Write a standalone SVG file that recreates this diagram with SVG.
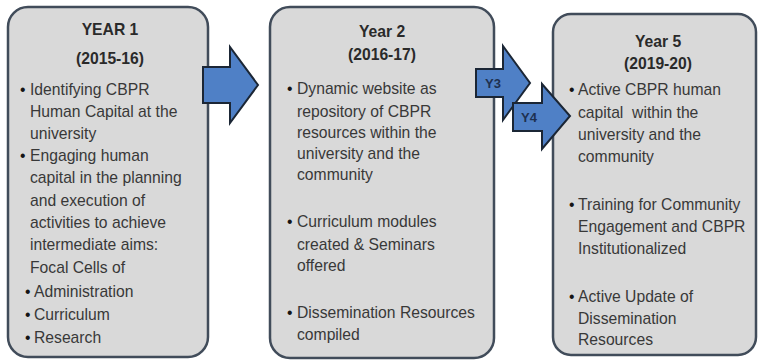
<svg xmlns="http://www.w3.org/2000/svg" width="758" height="362" viewBox="0 0 758 362">
<style>
.box{fill:#d9d9d9;stroke:#414c5a;stroke-width:2.5}
.t{font-family:"Liberation Sans",Arial,sans-serif;font-size:15.7px;fill:#383838}
.b{font-family:"Liberation Sans",Arial,sans-serif;font-size:15.7px;fill:#151515}
.h{font-family:"Liberation Sans",Arial,sans-serif;font-size:15.7px;font-weight:bold;fill:#2a2a2a;text-anchor:middle}
.arr{fill:#4f80c6;stroke:#1b2635;stroke-width:2;stroke-linejoin:miter}
.lbl{font-family:"Liberation Sans",Arial,sans-serif;font-size:13px;font-weight:bold;fill:#1e3050;text-anchor:middle}
</style>
<rect width="758" height="362" fill="#ffffff"/>
<g id="year1">
<rect class="box" x="8" y="7" width="200" height="350" rx="20"/>
<text class="h" x="110" y="35">YEAR 1</text>
<text class="h" x="110" y="64">(2015-16)</text>
<text class="b" x="20" y="95">•</text>
<text class="t" x="30" y="95">Identifying CBPR</text>
<text class="t" x="30" y="117">Human Capital at the</text>
<text class="t" x="30" y="139">university</text>
<text class="b" x="20" y="161">•</text>
<text class="t" x="30" y="161">Engaging human</text>
<text class="t" x="30" y="183">capital in the planning</text>
<text class="t" x="30" y="206">and execution of</text>
<text class="t" x="30" y="228">activities to achieve</text>
<text class="t" x="30" y="250">intermediate aims:</text>
<text class="t" x="30" y="273">Focal Cells of</text>
<text class="b" x="25" y="297">•</text>
<text class="t" x="34" y="297">Administration</text>
<text class="b" x="25" y="320">•</text>
<text class="t" x="34" y="320">Curriculum</text>
<text class="b" x="25" y="343">•</text>
<text class="t" x="34" y="343">Research</text>
</g>
<g id="year2">
<rect class="box" x="270" y="7" width="224" height="351" rx="20"/>
<text class="h" x="382" y="37">Year 2</text>
<text class="h" x="382" y="60">(2016-17)</text>
<text class="b" x="287" y="94">•</text>
<text class="t" x="297" y="94">Dynamic website as</text>
<text class="t" x="297" y="117">repository of CBPR</text>
<text class="t" x="297" y="138">resources within the</text>
<text class="t" x="297" y="159">university and the</text>
<text class="t" x="297" y="180">community</text>
<text class="b" x="287" y="227">•</text>
<text class="t" x="297" y="227">Curriculum modules</text>
<text class="t" x="297" y="250">created &amp; Seminars</text>
<text class="t" x="297" y="271">offered</text>
<text class="b" x="287" y="318">•</text>
<text class="t" x="297" y="318">Dissemination Resources</text>
<text class="t" x="297" y="340">compiled</text>
</g>
<g id="year5">
<rect class="box" x="553" y="14" width="203" height="341" rx="18"/>
<text class="h" x="658" y="47">Year 5</text>
<text class="h" x="658" y="69">(2019-20)</text>
<text class="b" x="569" y="95">•</text>
<text class="t" x="578" y="95">Active CBPR human</text>
<text class="t" x="578" y="118" xml:space="preserve">capital  within the</text>
<text class="t" x="578" y="140">university and the</text>
<text class="t" x="578" y="162">community</text>
<text class="b" x="569" y="210">•</text>
<text class="t" x="578" y="210">Training for Community</text>
<text class="t" x="578" y="232">Engagement and CBPR</text>
<text class="t" x="578" y="254">Institutionalized</text>
<text class="b" x="569" y="302">•</text>
<text class="t" x="578" y="302">Active Update of</text>
<text class="t" x="578" y="324">Dissemination</text>
<text class="t" x="578" y="345">Resources</text>
</g>
<g id="connectors">
<polygon class="arr" points="203,67 230,67 230,47 258,85 230,123 230,103 203,103"/>
<g id="y3">
<polygon class="arr" points="476,69 503,69 503,46 530,83 503,120 503,97 476,97"/>
<text class="lbl" x="493" y="88">Y3</text>
</g>
<g id="y4">
<polygon class="arr" points="513,103 542,103 542,84 570,116 542,149 542,131 513,131"/>
<text class="lbl" x="529" y="122">Y4</text>
</g>
</g>
</svg>
